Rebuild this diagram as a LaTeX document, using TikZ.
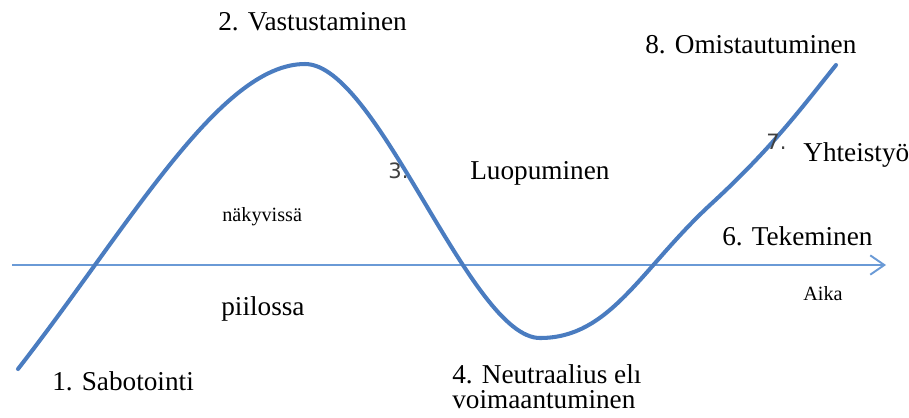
\documentclass[tikz,border=0pt]{standalone}
\usepackage{fontspec}
\setmainfont{Liberation Serif}
\newfontfamily\serif{Liberation Serif}
\newfontfamily\numfont{DejaVu Sans}
\usepackage{tikz}
\usetikzlibrary{arrows.meta}
\definecolor{curve}{HTML}{4A7CC0}
\definecolor{axis}{HTML}{6A9AD6}
\definecolor{num}{HTML}{404040}

\tikzset{
  lbl/.style={font=\serif\fontsize{15.5}{14.6}\selectfont,inner sep=0pt,anchor=west,align=left},
  small/.style={font=\serif\fontsize{11.5}{12}\selectfont,inner sep=0pt,anchor=west},
  digit/.style={font=\numfont\fontsize{12}{12}\selectfont,text=num,inner sep=0pt,anchor=west}
}

\begin{document}
\begin{tikzpicture}[x=0.02cm,y=-0.02cm]
\useasboundingbox (0,0) rectangle (909,417);
% time axis
\coordinate (axstart) at (12,265);
\coordinate (axend) at (886,265);
\draw[axis,line width=1.1pt,-{Straight Barb[length=8pt,width=11pt]}] (axstart) -- (axend);
% change curve
\draw[curve,line width=2.3pt,line cap=round]
  (18,369) .. controls (130,225) and (220,64) .. (305,64)
  .. controls (378,64) and (470,338) .. (540,338)
  .. controls (610,338) and (640,270) .. (710,205)
  .. controls (770,150) and (800,110) .. (836,65);
% phases
\node[lbl] (vastus) at (218,22) {2. Vastustaminen};
\node[lbl] (omist) at (645,45) {8. Omistautuminen};
\node[digit] (three) at (388,171) {3.};
\node[lbl] (luopu) at (470,173) {Luopuminen};
\node[digit] (seven) at (766,142) {7.};
\node[lbl] (yhteis) at (803,155) {Yhteistyö};
\node[small] (nakyv) at (222,217) {näkyvissä};
\node[lbl] (tekem) at (722,236) {6. Tekeminen};
\node[lbl] (piilo) at (221,309) {piilossa};
\node[small] (aika) at (803,294) {Aika};
\node[lbl] (sabot) at (52,381) {1. Sabotointi};
\node[lbl,anchor=north west] (neutr) at (452,364) {4. Neutraalius elı\\voimaantuminen};
\end{tikzpicture}
\end{document}
